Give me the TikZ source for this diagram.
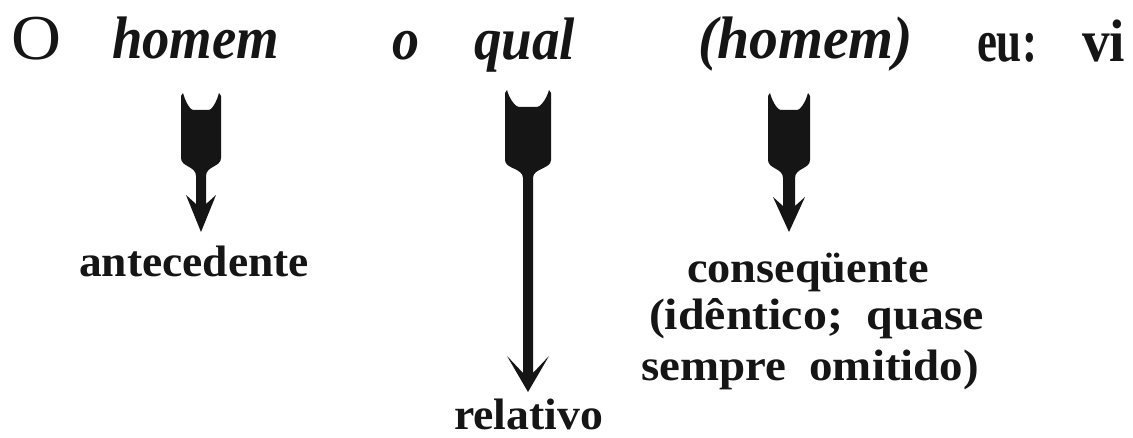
\documentclass[tikz,border=0pt]{standalone}
\usepackage{fontspec}
\setmainfont{Liberation Serif}
\usepackage{graphicx}
\definecolor{ink}{HTML}{151515}
\newcommand\fitto[2]{\resizebox{#1}{\height}{#2}}
\newcommand\topit{\fontsize{60}{60}\selectfont\bfseries\itshape}
\newcommand\toprm{\fontsize{64}{64}\selectfont}
\newcommand\topbf{\fontsize{60}{60}\selectfont\bfseries}
\newcommand\lblf{\fontsize{44}{44}\selectfont\bfseries}
% cx, top, body half-width, body bottom, stem half-width, head back, head half-width, tip, barb depth
\newcommand\fletch[9]{%
\fill[ink] ({#1-#3},{#2+3}) -- ({#1-#3+2},#2)
 .. controls ({#1-#3+5},{#2+11}) and ({#1-0.5*#3},{#2+17}) .. ({#1-0.4*#3},{#2+17})
 -- ({#1+0.4*#3},{#2+17})
 .. controls ({#1+0.5*#3},{#2+17}) and ({#1+#3-5},{#2+11}) .. ({#1+#3-2},#2)
 -- ({#1+#3},{#2+3}) -- ({#1+#3},#4)
 .. controls ({#1+#3},{#4+9}) and ({#1+#5},{#4+8}) .. ({#1+#5},{#4+18})
 -- ({#1+#5},{#6+#9}) -- ({#1+#7},#6) -- (#1,#8) -- ({#1-#7},#6) -- ({#1-#5},{#6+#9})
 -- ({#1-#5},{#4+18})
 .. controls ({#1-#5},{#4+8}) and ({#1-#3},{#4+9}) .. ({#1-#3},#4) -- cycle;}
\begin{document}
\begin{tikzpicture}[x=1pt,y=-1pt,
  word/.style={anchor=base west, inner sep=0pt, outer sep=0pt, text=ink},
  lbl/.style={anchor=base west, inner sep=0pt, outer sep=0pt, text=ink, font=\lblf}]
\useasboundingbox[fill=white] (0,0) rectangle (1133,438);
% top line
\node[word, font=\toprm] (O) at (11,60) {\fitto{50pt}{O}};
\node[word, font=\topit] (homem) at (112,59) {\fitto{167pt}{homem}};
\node[word, font=\topit] (o) at (392,60) {\fitto{27pt}{o}};
\node[word, font=\topit] (qual) at (474,60) {\fitto{101pt}{qual}};
\node[word, font=\topit] (homem2) at (698,59) {\fitto{215pt}{(homem)}};
\node[word, font=\topbf] (eu) at (977,62) {\fitto{60pt}{eu:}};
\node[word, font=\topbf] (vi) at (1082,62) {\fitto{43pt}{vi}};
% labels
\node[lbl] (ant) at (79,277) {\fitto{230pt}{antecedente}};
\node[lbl] (cons1) at (687,283) {\fitto{242pt}{conseqüente}};
\node[lbl] (cons2) at (649,330) {\fitto{335pt}{(idêntico;\ \ quase}};
\node[lbl] (cons3) at (641,381) {\fitto{338pt}{sempre\ \ omitido)}};
\node[lbl] (rel) at (454,429) {\fitto{149pt}{relativo}};
% arrows
\fletch{201}{93}{20}{158}{5}{195}{15}{232}{9}
\fletch{528}{90}{23}{160}{5}{356}{21}{392}{17}
\fletch{789}{93}{21}{160}{6}{197}{16}{232}{9}
\end{tikzpicture}
\end{document}
